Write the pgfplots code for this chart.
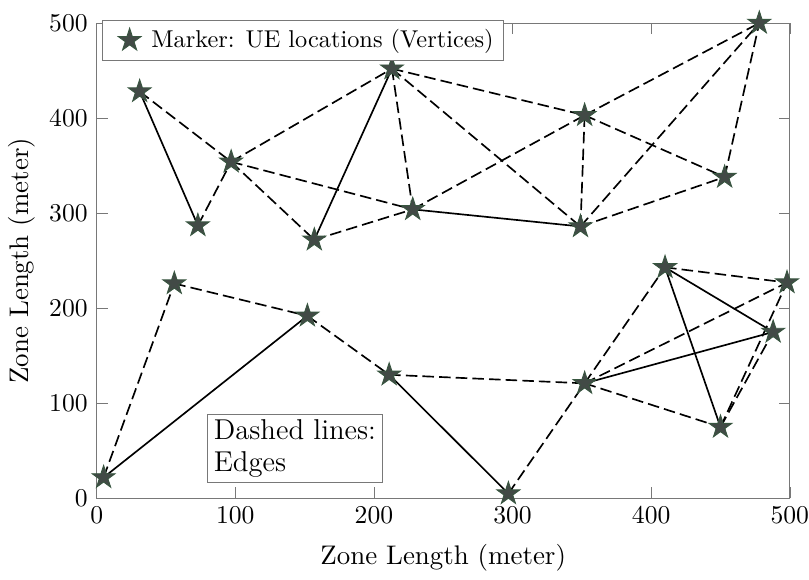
\documentclass[border=0pt]{standalone}
\usepackage{pgfplots}
\pgfplotsset{compat=1.18}
\definecolor{starfill}{RGB}{66,74,70}
\definecolor{stardraw}{RGB}{56,86,64}
\definecolor{boxgray}{RGB}{120,120,120}
\pgfdeclareplotmark{pentagram}{%
  \pgfpathmoveto{\pgfpointpolar{90}{\pgfplotmarksize}}%
  \pgfpathlineto{\pgfpointpolar{126}{0.382\pgfplotmarksize}}%
  \pgfpathlineto{\pgfpointpolar{162}{\pgfplotmarksize}}%
  \pgfpathlineto{\pgfpointpolar{198}{0.382\pgfplotmarksize}}%
  \pgfpathlineto{\pgfpointpolar{234}{\pgfplotmarksize}}%
  \pgfpathlineto{\pgfpointpolar{270}{0.382\pgfplotmarksize}}%
  \pgfpathlineto{\pgfpointpolar{306}{\pgfplotmarksize}}%
  \pgfpathlineto{\pgfpointpolar{342}{0.382\pgfplotmarksize}}%
  \pgfpathlineto{\pgfpointpolar{18}{\pgfplotmarksize}}%
  \pgfpathlineto{\pgfpointpolar{54}{0.382\pgfplotmarksize}}%
  \pgfpathclose
  \pgfusepathqfillstroke}
\begin{document}
\begin{tikzpicture}
\begin{axis}[
  scale only axis,
  width=270.5pt, height=185.5pt,
  xmin=0, xmax=500, ymin=0, ymax=500,
  xtick={0,100,...,500}, ytick={0,100,...,500},
  tick align=inside,
  axis line style={boxgray},
  tick style={boxgray},
  tick label style={font=\fontsize{10}{12}\selectfont},
  xticklabel style={inner xsep=0pt},
  label style={font=\fontsize{10.5}{12.5}\selectfont},
  xlabel={Zone Length (meter)},
  ylabel={Zone Length (meter)},
  xlabel style={yshift=-1pt},
  ylabel style={yshift=-1.5pt},
  clip=false,
  legend style={at={(rel axis cs:0.008,1.007)}, anchor=north west, draw=boxgray,
    font=\fontsize{9.5}{11}\selectfont, inner xsep=2pt, inner ysep=1.5pt,
    legend cell align=left},
  legend image code/.code={%
    \path[draw=none, fill=none] (0pt,0pt) -- (15pt,0pt);
    \path[draw=none, fill=none] plot[only marks, mark=pentagram, mark size=4.7pt,
      mark options={fill=starfill, draw=stardraw, line width=0.35pt, solid}] coordinates {(8.5pt,0pt)};},
  every axis plot/.append style={line width=0.65pt},
]
% vertices
\addplot[only marks, mark=pentagram, mark size=4.7pt, mark options={fill=starfill, draw=stardraw, line width=0.35pt, solid}]
coordinates {
(31,428) (73,287) (97,354) (157,272) (213,452) (228,304) (352,403) (349,286) (453,338) (478,500)
(5,22) (56,226) (152,192) (211,130) (297,5) (352,121) (410,243) (498,227) (488,175) (450,75)
};
\addlegendentry{Marker: UE locations (Vertices)}
\pgfplotsset{solidedge/.style={black, solid, forget plot}, dashedge/.style={black, dash pattern=on 4.5pt off 2pt, forget plot}}
% solid edges
\addplot[solidedge] coordinates {(31,428) (73,287)};
\addplot[solidedge] coordinates {(157,272) (213,452)};
\addplot[solidedge] coordinates {(228,304) (349,286)};
\addplot[solidedge] coordinates {(5,22) (152,192)};
\addplot[solidedge] coordinates {(211,130) (297,5)};
\addplot[solidedge] coordinates {(352,121) (488,175)};
\addplot[solidedge] coordinates {(410,243) (488,175)};
\addplot[solidedge] coordinates {(410,243) (450,75)};
% dashed edges
\addplot[dashedge] coordinates {(31,428) (97,354)};
\addplot[dashedge] coordinates {(73,287) (97,354)};
\addplot[dashedge] coordinates {(97,354) (213,452)};
\addplot[dashedge] coordinates {(97,354) (157,272)};
\addplot[dashedge] coordinates {(97,354) (228,304)};
\addplot[dashedge] coordinates {(157,272) (228,304)};
\addplot[dashedge] coordinates {(213,452) (228,304)};
\addplot[dashedge] coordinates {(213,452) (352,403)};
\addplot[dashedge] coordinates {(213,452) (349,286)};
\addplot[dashedge] coordinates {(228,304) (352,403)};
\addplot[dashedge] coordinates {(352,403) (349,286)};
\addplot[dashedge] coordinates {(352,403) (478,500)};
\addplot[dashedge] coordinates {(352,403) (453,338)};
\addplot[dashedge] coordinates {(349,286) (478,500)};
\addplot[dashedge] coordinates {(349,286) (453,338)};
\addplot[dashedge] coordinates {(453,338) (478,500)};
\addplot[dashedge] coordinates {(5,22) (56,226)};
\addplot[dashedge] coordinates {(56,226) (152,192)};
\addplot[dashedge] coordinates {(152,192) (211,130)};
\addplot[dashedge] coordinates {(211,130) (352,121)};
\addplot[dashedge] coordinates {(297,5) (352,121)};
\addplot[dashedge] coordinates {(352,121) (410,243)};
\addplot[dashedge] coordinates {(352,121) (498,227)};
\addplot[dashedge] coordinates {(352,121) (450,75)};
\addplot[dashedge] coordinates {(410,243) (498,227)};
\addplot[dashedge] coordinates {(450,75) (498,227)};
\addplot[dashedge] coordinates {(450,75) (488,175)};
\node[draw=boxgray, fill=white, anchor=north west, align=left, inner xsep=2.5pt, inner ysep=2pt,
  font=\fontsize{11.2}{12.5}\selectfont] at (axis cs:79.5,88.5) {Dashed lines:\\Edges};
\path (rel axis cs:0,1) -- ++(0,9pt);
\end{axis}
\end{tikzpicture}
\end{document}
